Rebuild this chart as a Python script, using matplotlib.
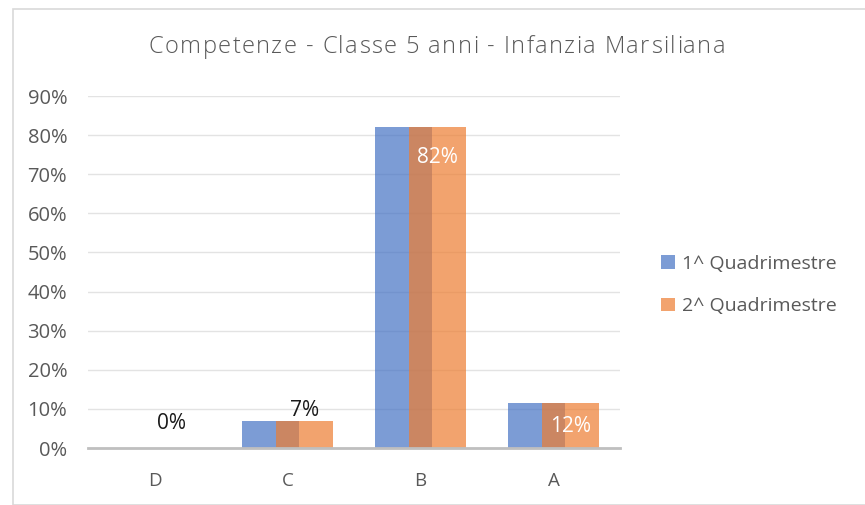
import matplotlib.pyplot as plt
from matplotlib.patches import Rectangle
from matplotlib.ticker import PercentFormatter

# data
categories = ["D", "C", "B", "A"]
q1 = [0.0, 0.07, 0.82, 0.115]
q2 = [0.0, 0.07, 0.82, 0.115]
q2_labels = ["0%", "7%", "82%", "12%"]
series_names = ["1^ Quadrimestre", "2^ Quadrimestre"]
title = "Competenze - Classe 5 anni - Infanzia Marsiliana"

plt.rcParams['font.family'] = ['Open Sans', 'DejaVu Sans']
grey = '#595959'

fig = plt.figure(figsize=(8.65, 5.05), dpi=100)
W, H = 865, 505
# chart border
fig.patches.append(Rectangle((13 / W, 0), 1, 1 - 9 / H, transform=fig.transFigure,
                             fill=False, edgecolor='#d9d9d9', lw=1.2))

ax = fig.add_axes([88 / W, (H - 448) / H, 532 / W, (448 - 96) / H])
x = list(range(len(categories)))
w = 0.43
off = 0.128
ax.bar([i - off for i in x], q1, w, color='#4472C4', alpha=0.7, label=series_names[0], zorder=2)
ax.bar([i + off for i in x], q2, w, color='#ED7D31', alpha=0.7, label=series_names[1], zorder=3)

# data labels on second series (Excel style: inside end for tall bars)
for i, (v, lab) in enumerate(zip(q2, q2_labels)):
    if v > 0.5:
        dy, col = -30, 'white'
    elif v > 0.1:
        dy, col = -23, 'white'
    elif v > 0:
        dy, col = 10.5, '#1a1a1a'
    else:
        dy, col = 24.5, '#1a1a1a'
    ax.annotate(lab, (i + off, v), xytext=(0, dy * 0.72), textcoords='offset points',
                ha='center', va='center', color=col, fontsize=15, zorder=5)

ax.set_xlim(-0.5, 3.5)
ax.set_ylim(0, 0.9)
ax.set_yticks([i / 10 for i in range(10)])
ax.yaxis.set_major_formatter(PercentFormatter(1.0, decimals=0))
ax.set_xticks(x)
ax.set_xticklabels(categories)
ax.tick_params(axis='y', length=0, labelsize=14.5, colors=grey, pad=15)
ax.tick_params(axis='x', length=0, labelsize=13.5, colors=grey, pad=17)
ax.grid(axis='y', color='#e3e3e3', lw=1, zorder=0)
ax.set_axisbelow(True)
for s in ['top', 'right', 'left']:
    ax.spines[s].set_visible(False)
ax.spines['bottom'].set_color('#bfbfbf')
ax.spines['bottom'].set_linewidth(2)
ax.spines['bottom'].set_zorder(4)

# title with a little letter spacing, like the Excel chart title
renderer = fig.canvas.get_renderer()
tsize = 17
track = 1.4
parts = []
total = 0
for ch in title:
    t = fig.text(0, 1 - 47 / H, ch, ha='left', va='center', fontsize=tsize,
                 color=grey, fontweight='light')
    wpx = t.get_window_extent(renderer).width
    if ch == ' ':
        wpx = tsize / 0.72 * 0.26
    parts.append((t, wpx))
    total += wpx + track
total -= track
xpos = 437 - total / 2
for t, wpx in parts:
    t.set_x(xpos / W)
    xpos += wpx + track

leg = fig.legend(loc='center left', bbox_to_anchor=(661 / W, 1 - 285 / H), frameon=False,
                 fontsize=14, labelcolor=grey, handlelength=0.72, handleheight=0.72,
                 handletextpad=0.36, labelspacing=1.27, borderpad=0, borderaxespad=0)

fig.savefig('out.png', dpi=100)
